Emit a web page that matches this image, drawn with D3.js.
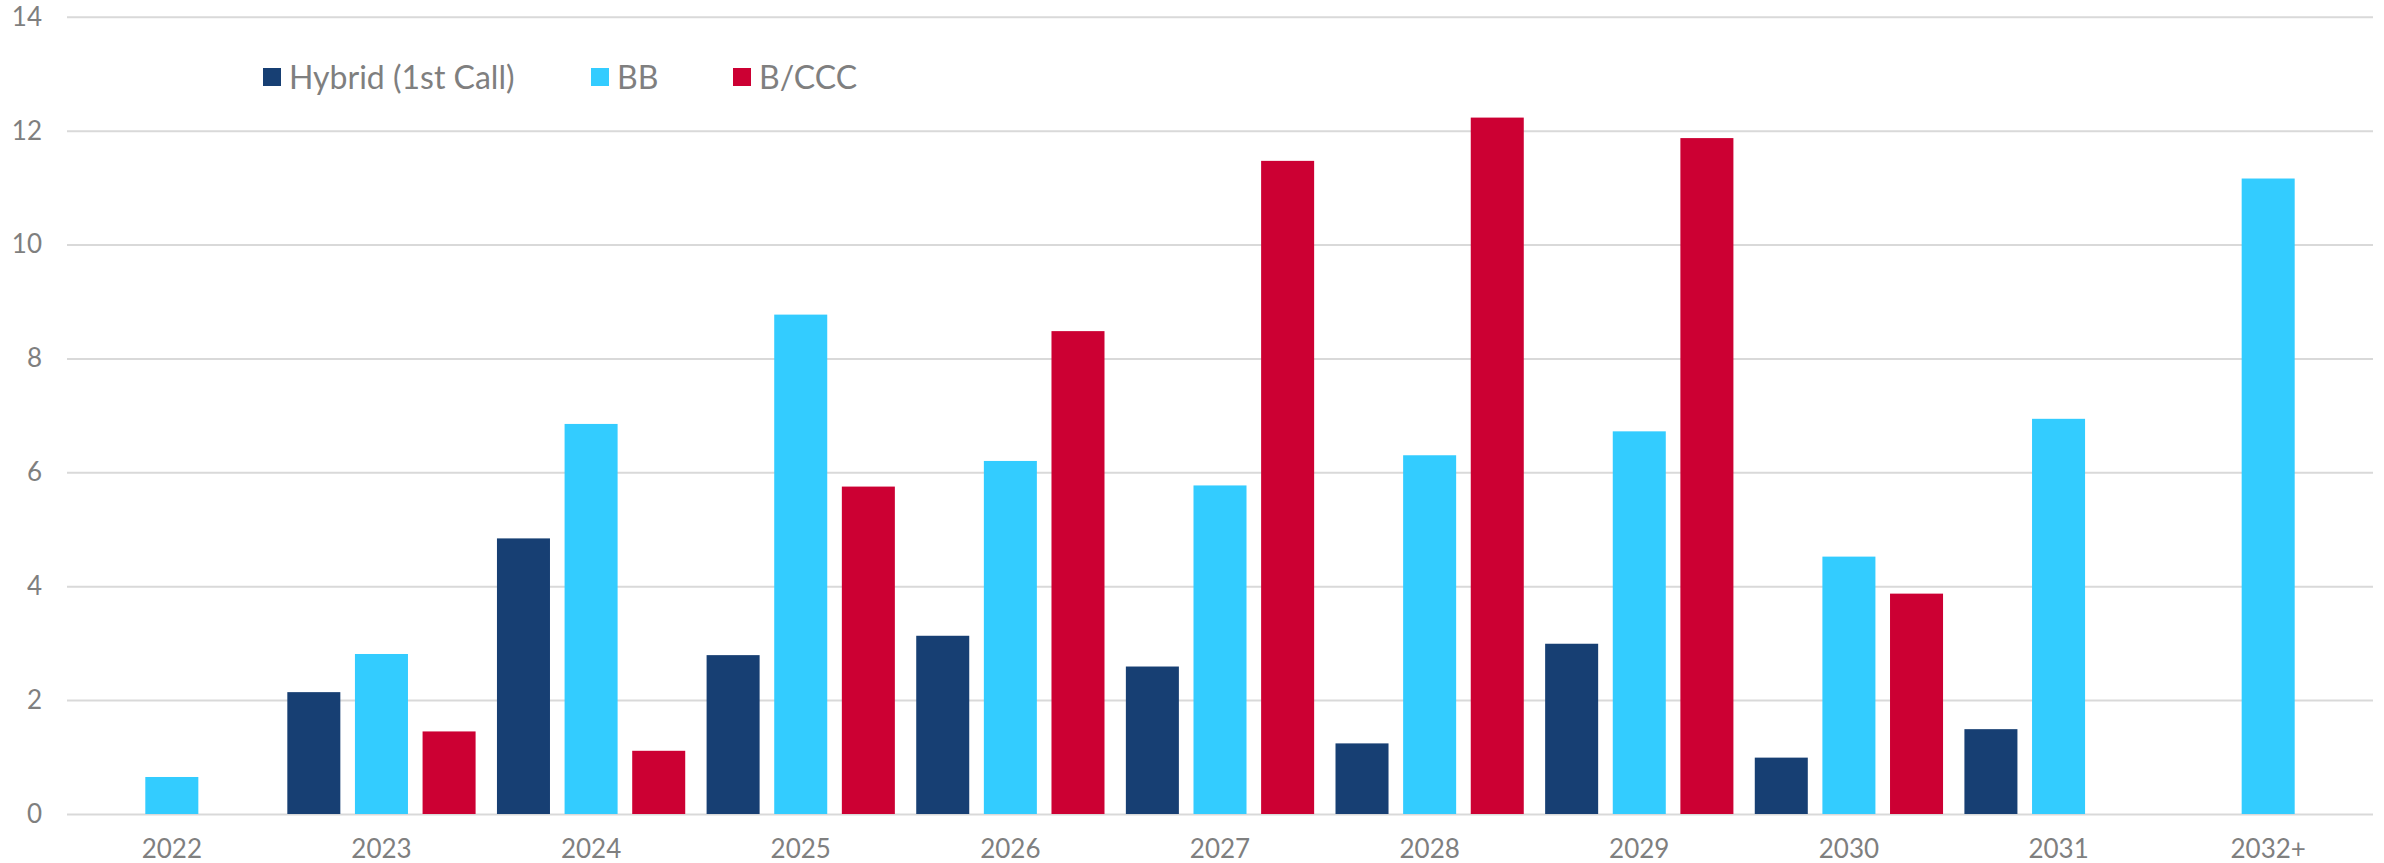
<!DOCTYPE html>
<html>
<head>
<meta charset="utf-8">
<script src="https://cdn.jsdelivr.net/npm/d3@7"></script>
<style>
  html, body { margin: 0; padding: 0; background: #ffffff; }
  svg { display: block; }
  text { font-family: Lato, "Noto Sans", sans-serif; fill: #7f7f7f; }
</style>
</head>
<body>
<svg id="chart" width="2384" height="863"></svg>
<script>
const categories = ["2022", "2023", "2024", "2025", "2026", "2027", "2028", "2029", "2030", "2031", "2032+"];
const seriesNames = ["Hybrid (1st Call)", "BB", "B/CCC"];
const hybrid = [null, 2.14, 4.84, 2.79, 3.13, 2.59, 1.24, 2.99, 0.99, 1.49, null];
const bb     = [0.65, 2.81, 6.85, 8.77, 6.20, 5.77, 6.30, 6.72, 4.52, 6.94, 11.16];
const bccc   = [null, 1.45, 1.11, 5.75, 8.48, 11.47, 12.23, 11.87, 3.87, null, null];
const yTicks = [0, 2, 4, 6, 8, 10, 12, 14];
const colors = ["#173f73", "#33ccff", "#cc0033"];

const seriesValues = [hybrid, bb, bccc];

(function () {
const svg = d3.select("#chart");
const mLeft = 67, mRight = 2373, mTop = 16.8, mBottom = 814;

const x0 = d3.scaleBand().domain(categories).range([mLeft, mRight]).padding(0);
const x1 = d3.scaleBand().domain(seriesNames).range([0, x0.bandwidth()])
  .paddingInner(0.216).paddingOuter(0.158);
const y = d3.scaleLinear().domain([0, 14]).range([mBottom, mTop]);

// gridlines
const yAxis = d3.axisLeft(y).tickValues(yTicks).tickSize(-(mRight - mLeft)).tickPadding(25);
const gy = svg.append("g").attr("transform", `translate(${mLeft},0)`).call(yAxis);
gy.select(".domain").remove();
gy.selectAll(".tick line").attr("stroke", "#d9d9d9").attr("stroke-width", 2);
gy.selectAll(".tick text").attr("font-size", 26).style("fill", "#7f7f7f")
  .attr("font-family", "Lato, 'Noto Sans', sans-serif");

// bars
const rows = [];
categories.forEach((c, i) => {
  seriesNames.forEach((s, j) => {
    const v = seriesValues[j][i];
    if (v != null) rows.push({ c, s, v, j });
  });
});
svg.append("g").selectAll("rect").data(rows).join("rect")
  .attr("x", d => x0(d.c) + x1(d.s))
  .attr("width", x1.bandwidth())
  .attr("y", d => y(d.v))
  .attr("height", d => y(0) - y(d.v))
  .attr("fill", d => colors[d.j]);

// x axis labels
const xAxis = d3.axisBottom(x0).tickSize(0).tickPadding(0);
const gx = svg.append("g").attr("transform", `translate(0,${mBottom})`).call(xAxis);
gx.select(".domain").remove();
gx.selectAll(".tick text").attr("font-size", 26).attr("dy", null).attr("y", 44)
  .style("fill", "#7f7f7f").attr("font-family", "Lato, 'Noto Sans', sans-serif");

// legend
const legendX = [263, 591, 733];
const lg = svg.append("g");
seriesNames.forEach((s, j) => {
  lg.append("rect").attr("x", legendX[j]).attr("y", 68).attr("width", 18).attr("height", 18)
    .attr("fill", colors[j]);
  lg.append("text").attr("x", legendX[j] + 26).attr("y", 89)
    .attr("font-size", 32).text(s);
});
})();
</script>
</body>
</html>
